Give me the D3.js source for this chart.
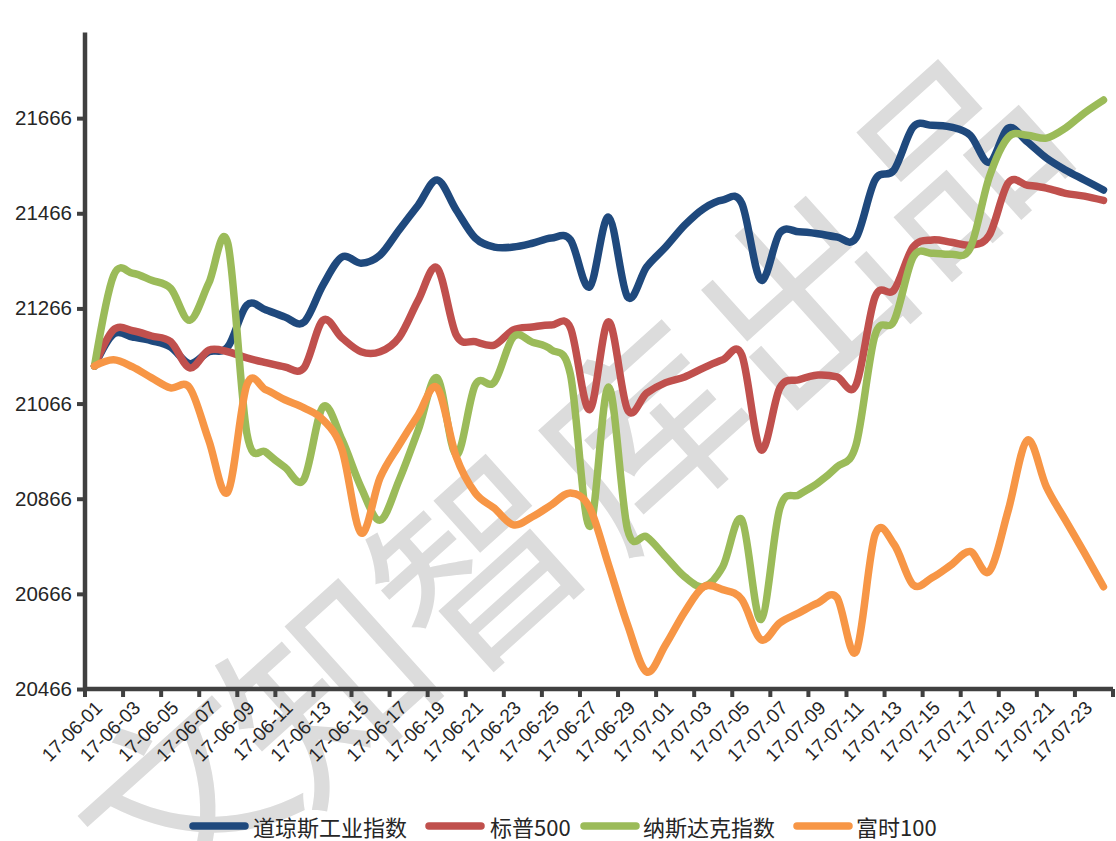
<!DOCTYPE html>
<html>
<head>
<meta charset="utf-8">
<script src="https://cdn.jsdelivr.net/npm/d3@7"></script>
<style>
  html, body { margin: 0; padding: 0; background: #fff; }
  svg { display: block; }
</style>
</head>
<body>
<svg id="chart" width="1116" height="841"></svg>
<script>
// Daily dates, 2017-06-01 .. 2017-07-24
const dates = d3.timeDay.range(new Date(2017, 5, 1), new Date(2017, 6, 25));
const dateFmt = d3.timeFormat("%y-%m-%d");

const seriesNames = ["道琼斯工业指数", "标普500", "纳斯达克指数", "富时100"];
const seriesColors = ["#1f497d", "#c0504d", "#9bbb59", "#f79646"];

const dow = [
  21145, 21212, 21206, 21198, 21185, 21150, 21175, 21185, 21273, 21263,
  21248, 21237, 21315, 21374, 21361, 21378, 21431, 21483, 21536, 21473,
  21414, 21395, 21395, 21403, 21414, 21410, 21311, 21458, 21290, 21353,
  21395, 21441, 21476, 21494, 21487, 21326, 21425, 21427, 21423, 21416,
  21414, 21536, 21557, 21647, 21651, 21647, 21630, 21573, 21645, 21616,
  21582, 21557, 21536, 21515
];
const sp500 = [
  21145, 21221, 21219, 21208, 21196, 21141, 21178, 21175, 21162, 21152,
  21143, 21141, 21241, 21204, 21175, 21175, 21205, 21283, 21351, 21210,
  21196, 21189, 21221, 21227, 21231, 21225, 21053, 21238, 21053, 21088,
  21110, 21122, 21141, 21158, 21168, 20969, 21099, 21116, 21126, 21122,
  21105, 21290, 21305, 21395, 21410, 21405, 21399, 21420, 21530, 21525,
  21519, 21508, 21502, 21493
];
const nasdaq = [
  21145, 21335, 21340, 21325, 21308, 21241, 21319, 21403, 21004, 20964,
  20932, 20907, 21059, 20990, 20890, 20821, 20905, 21010, 21120, 20958,
  21105, 21111, 21206, 21195, 21179, 21127, 20808, 21101, 20801, 20786,
  20744, 20702, 20681, 20723, 20822, 20612, 20846, 20874, 20899, 20933,
  20979, 21210, 21240, 21374, 21382, 21380, 21393, 21542, 21626, 21630,
  21624, 21645, 21677, 21704
];
const ftse = [
  21145, 21158, 21143, 21120, 21099, 21099, 20989, 20880, 21105, 21095,
  21074, 21057, 21032, 20969, 20794, 20910, 20979, 21042, 21099, 20954,
  20878, 20846, 20811, 20828, 20853, 20878, 20848, 20727, 20601, 20502,
  20559, 20628, 20681, 20675, 20654, 20570, 20605, 20626, 20647, 20658,
  20544, 20790, 20770, 20685, 20700, 20727, 20755, 20713, 20842, 20989,
  20891, 20821, 20752, 20681
];
const seriesValues = [dow, sp500, nasdaq, ftse];

const yTicks = [20466, 20666, 20866, 21066, 21266, 21466, 21666];
const yMin = 20466, yMax = 21846;

const watermarkChars = ["文", "知", "智", "库", "出", "品"];

const svg = d3.select("#chart");
const plotLeft = 85, plotRight = 1113, plotTop = 32.5, plotBottom = 689;

const x = d3.scaleBand().domain(dates.map((d, i) => i)).range([plotLeft, plotRight]).padding(0);
const y = d3.scaleLinear().domain([yMin, yMax]).range([plotBottom, plotTop]);
const cx = i => x(i) + x.bandwidth() / 2;

// watermark behind the plot
const wm = svg.append("g").attr("class", "watermark");
const wmCenters = [[175, 790], [320, 680], [470, 555], [635, 425], [795, 290], [945, 150]];
watermarkChars.forEach((ch, k) => {
  wm.append("text")
    .attr("transform", `translate(${wmCenters[k][0]},${wmCenters[k][1]}) rotate(-42)`)
    .attr("text-anchor", "middle")
    .attr("dominant-baseline", "central")
    .attr("font-family", "'Noto Sans CJK SC', sans-serif")
    .attr("font-weight", 400)
    .attr("font-size", 200)
    .attr("fill", "#dcdcdc")
    .text(ch);
});

// series lines
const line = d3.line()
  .x((d, i) => cx(i))
  .y(d => y(d))
  .curve(d3.curveCardinal.tension(0));

const lines = svg.append("g").attr("class", "lines");
seriesValues.forEach((vals, k) => {
  lines.append("path")
    .datum(vals)
    .attr("d", line)
    .attr("fill", "none")
    .attr("stroke", seriesColors[k])
    .attr("stroke-width", 7.5)
    .attr("stroke-linecap", "round")
    .attr("stroke-linejoin", "round");
});

// y axis
const yAxis = d3.axisLeft(y).tickValues(yTicks).tickSize(8).tickPadding(5).tickFormat(d3.format("d"));
const gy = svg.append("g").attr("transform", `translate(${plotLeft},0)`).call(yAxis);
gy.select(".domain").attr("stroke", "#404040").attr("stroke-width", 4.5)
  .attr("d", `M0,${plotTop}V${plotBottom}`);
gy.selectAll(".tick line").attr("stroke", "#404040").attr("stroke-width", 4);
gy.selectAll(".tick text")
  .attr("font-family", "'Liberation Sans', Arial, sans-serif")
  .attr("font-size", 20.5)
  .attr("fill", "#262626");

// x axis: tick marks every two days on category boundaries, labels every two days
const boundaries = d3.range(0, dates.length + 1, 2).map(i => plotLeft + i * x.bandwidth());
const gx = svg.append("g").attr("class", "x-axis");
gx.selectAll("line.tick")
  .data(boundaries)
  .join("line")
  .attr("class", "tick")
  .attr("x1", d => d).attr("x2", d => d)
  .attr("y1", plotBottom).attr("y2", plotBottom + 8)
  .attr("stroke", "#404040").attr("stroke-width", 4);
gx.append("line")
  .attr("x1", plotLeft - 2).attr("x2", plotRight)
  .attr("y1", plotBottom).attr("y2", plotBottom)
  .attr("stroke", "#404040").attr("stroke-width", 4.5);

const labelIdx = d3.range(0, dates.length, 2);
gx.selectAll("text")
  .data(labelIdx)
  .join("text")
  .attr("transform", i => `translate(${cx(i) + 9},${plotBottom + 20}) rotate(-45)`)
  .attr("text-anchor", "end")
  .attr("font-family", "'Liberation Sans', Arial, sans-serif")
  .attr("font-size", 19)
  .attr("fill", "#262626")
  .text(i => dateFmt(dates[i]));

// legend
const legendItems = [
  { x0: 193, tx: 253 },
  { x0: 429, tx: 490 },
  { x0: 584, tx: 643 },
  { x0: 797, tx: 856 }
];
const lg = svg.append("g").attr("class", "legend");
seriesNames.forEach((name, k) => {
  const it = legendItems[k];
  lg.append("line")
    .attr("x1", it.x0).attr("x2", it.x0 + 52)
    .attr("y1", 826).attr("y2", 826)
    .attr("stroke", seriesColors[k]).attr("stroke-width", 7.5)
    .attr("stroke-linecap", "round");
  lg.append("text")
    .attr("x", it.tx).attr("y", 826)
    .attr("dominant-baseline", "central")
    .attr("font-family", "'Noto Sans CJK SC', sans-serif")
    .attr("font-size", 22)
    .attr("fill", "#262626")
    .text(name);
});
</script>
</body>
</html>
